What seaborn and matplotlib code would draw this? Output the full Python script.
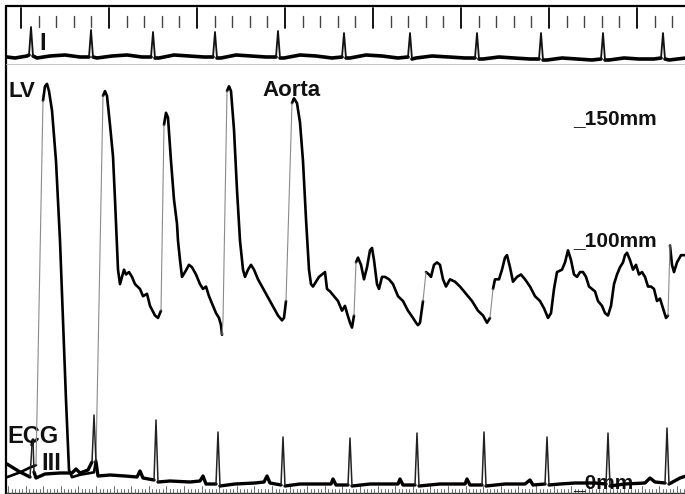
import numpy as np
import pandas as pd
import matplotlib
matplotlib.use("Agg")
import matplotlib.pyplot as plt
import seaborn as sns

# LV -> aortic pull-back pressure trace (time in chart units, pressure in mmHg)
pressure_t = [7, 20, 30, 36, 43, 45, 47, 49, 52, 56,
              60, 63, 66, 69, 72, 80, 94, 96, 103, 105,
              107, 110, 113, 115, 118, 120, 122, 124, 126, 129,
              132, 135, 140, 143, 147, 150, 155, 158, 160, 161,
              164, 166, 168, 171, 174, 177, 178, 180, 182, 185,
              189, 192, 196, 200, 203, 206, 209, 213, 216, 219,
              221, 222, 223, 227, 229, 231, 234, 237, 240, 243,
              245, 248, 251, 254, 258, 262, 266, 270, 274, 278,
              282, 284, 286, 292, 294, 297, 300, 303, 306, 309,
              311, 313, 316, 319, 322, 325, 327, 330, 334, 338,
              342, 345, 347, 350, 352, 354, 356, 358, 361, 364,
              367, 370, 372, 374, 377, 379, 382, 385, 389, 393,
              398, 403, 408, 413, 416, 418, 420, 423, 426, 429,
              431, 434, 437, 440, 443, 446, 450, 455, 460, 466,
              472, 478, 483, 487, 490, 493, 495, 499, 502, 505,
              507, 510, 513, 517, 521, 525, 530, 535, 540, 544,
              548, 551, 554, 557, 562, 565, 568, 571, 574, 577,
              580, 583, 586, 589, 592, 595, 598, 602, 605, 608,
              611, 614, 617, 620, 623, 625, 627, 630, 633, 636,
              639, 642, 645, 648, 651, 654, 657, 660, 663, 666,
              668, 670, 672, 674, 677, 681, 686]
pressure_mmhg = [2, 4, 6, 7, 158, 164, 165, 162, 154, 133,
                 100, 67, 34, 5, 2, 3, 4, 9, 160, 162,
                 160, 148, 135, 117, 88, 82, 85, 88, 86, 87,
                 85, 82, 80, 77, 78, 73, 69, 68, 70, 71,
                 148, 153, 151, 133, 117, 107, 100, 92, 85, 87,
                 90, 89, 86, 82, 80, 81, 77, 73, 70, 68,
                 65, 61, 67, 162, 164, 162, 146, 121, 100, 88,
                 85, 88, 90, 88, 84, 81, 78, 75, 72, 69,
                 67, 68, 75, 157, 159, 157, 149, 133, 109, 88,
                 82, 81, 83, 85, 86, 87, 80, 79, 77, 75,
                 71, 73, 70, 66, 64, 69, 91, 93, 90, 84,
                 89, 96, 97, 92, 82, 80, 85, 85, 84, 82,
                 77, 75, 71, 68, 66, 65, 66, 75, 87, 86,
                 85, 90, 91, 90, 84, 81, 84, 83, 81, 78,
                 75, 71, 69, 66, 68, 80, 84, 84, 88, 93,
                 94, 89, 83, 85, 86, 84, 81, 77, 75, 72,
                 68, 70, 80, 87, 88, 91, 96, 92, 86, 85,
                 87, 87, 85, 81, 80, 79, 75, 73, 70, 69,
                 73, 82, 86, 89, 91, 94, 95, 92, 88, 90,
                 86, 87, 85, 81, 81, 80, 75, 76, 72, 68,
                 69, 98, 90, 87, 91, 94, 94]

# ECG lead I (top strip), deflection in mV
ecg1_t = [7, 15, 27, 29, 31, 33, 37, 50, 65, 80,
          89, 91, 93, 97, 112, 127, 142, 151, 153, 155,
          159, 174, 189, 204, 213, 215, 217, 221, 236, 251,
          266, 276, 278, 280, 284, 300, 316, 332, 342, 344,
          346, 350, 366, 382, 398, 408, 410, 412, 416, 432,
          449, 465, 475, 477, 479, 483, 499, 514, 530, 539,
          541, 543, 547, 562, 577, 592, 601, 603, 605, 609,
          624, 639, 654, 661, 663, 665, 669, 686]
ecg1_mv = [0.0, -0.05, 0.05, 0.1, 1.5, 0.05, -0.05, 0.05, 0.1, 0.0,
           0.0, 1.35, 0.0, -0.05, 0.05, 0.1, 0.0, 0.0, 1.25, -0.05,
           -0.05, 0.1, 0.05, 0.0, 0.0, 1.25, -0.05, -0.05, 0.1, 0.05,
           0.0, 0.0, 1.3, -0.05, -0.05, 0.1, 0.05, -0.05, 0.0, 1.2,
           -0.05, -0.05, 0.1, 0.05, -0.05, 0.0, 1.2, -0.1, -0.05, 0.05,
           0.0, -0.05, -0.05, 1.2, -0.1, -0.1, 0.0, -0.05, -0.1, -0.1,
           1.2, -0.15, -0.15, -0.05, -0.1, -0.15, -0.1, 1.2, -0.15, -0.15,
           -0.05, -0.1, -0.1, -0.05, 1.2, -0.1, -0.15, -0.05]

# ECG lead III (bottom strip), deflection in mV
ecg3_t = [7, 20, 30, 32, 33, 34, 36, 45, 60, 72,
          76, 80, 88, 92, 94, 96, 98, 110, 125, 137,
          140, 143, 154, 156, 158, 170, 190, 200, 203, 206,
          216, 218, 220, 235, 255, 264, 267, 270, 281, 283,
          285, 300, 320, 331, 333, 336, 348, 350, 352, 370,
          398, 400, 403, 415, 417, 419, 440, 465, 467, 470,
          482, 484, 486, 505, 525, 530, 533, 545, 547, 549,
          560, 575, 595, 606, 608, 610, 625, 645, 650, 655,
          665, 667, 669, 680, 686]
ecg3_mv = [0.64, 0.32, 0.12, 1.4, 1.6, 0.32, 0.08, 0.24, 0.28, 0.28,
           0.44, 0.28, 0.4, 0.72, 2.6, 0.72, 0.16, 0.2, 0.16, 0.12,
           0.36, 0.08, 0.0, 2.4, -0.08, -0.04, -0.08, -0.04, 0.16, -0.16,
           -0.16, 1.92, -0.24, -0.16, -0.12, -0.08, 0.16, -0.12, -0.2, 1.72,
           -0.24, -0.16, -0.16, -0.16, 0.04, -0.2, -0.2, 1.68, -0.24, -0.16,
           -0.16, 0.04, -0.2, -0.2, 1.88, -0.24, -0.16, -0.16, 0.04, -0.2,
           -0.2, 1.92, -0.24, -0.16, -0.16, 0.0, -0.2, -0.16, 1.72, -0.2,
           -0.16, -0.12, -0.12, -0.16, 1.88, -0.24, -0.16, -0.12, 0.08, -0.08,
           -0.12, 2.08, -0.16, 0.08, 0.16]

scale_labels = ["_150mm", "_100mm", "_0mm"]
trace_labels = ["LV", "Aorta", "ECG", "III", "I"]

assert len(pressure_t) == len(pressure_mmhg)
assert len(ecg1_t) == len(ecg1_mv)
assert len(ecg3_t) == len(ecg3_mv)

# ---------------- styling ----------------
sns.set_theme(style="white")
plt.rcParams["font.family"] = ["Liberation Sans", "DejaVu Sans"]

W, H = 685, 494
fig = plt.figure(figsize=(6.85, 4.94), dpi=100)
fig.patch.set_facecolor("white")


def full_axes(ylim):
    ax = fig.add_axes([0, 0, 1, 1])
    ax.set_xlim(0, W)
    ax.set_ylim(*ylim)
    ax.axis("off")
    ax.patch.set_alpha(0)
    return ax


def split_trace(t, v, thr, rising_only):
    """Split a trace into fast (pen moving quickly -> faint) and slow parts."""
    rows = []
    seg, kind, cur = 0, None, []
    for i in range(len(t) - 1):
        slope = (v[i + 1] - v[i]) / (t[i + 1] - t[i])
        fast = slope > thr if rising_only else abs(slope) > thr
        k = "fast" if fast else "slow"
        if k != kind:
            if cur:
                rows += [(a, b, seg, kind) for a, b in cur]
            seg += 1
            kind = k
            cur = [(t[i], v[i])]
        cur.append((t[i + 1], v[i + 1]))
    rows += [(a, b, seg, kind) for a, b in cur]
    return pd.DataFrame(rows, columns=["t", "v", "seg", "kind"])


def draw(ax, df, slow_kw, fast_kw):
    for kind, kw in (("slow", slow_kw), ("fast", fast_kw)):
        d = df[df["kind"] == kind]
        if len(d):
            sns.lineplot(data=d, x="t", y="v", units="seg", estimator=None,
                         sort=False, legend=False, ax=ax,
                         solid_capstyle="round", solid_joinstyle="round", **kw)


# background axes in figure pixel units: frame, paper marks, labels
ax_bg = full_axes((H, 0))
ax_bg.plot([6.5, 6.5], [6, H], color="black", lw=1.6)
ax_bg.plot([6, W], [6.5, 6.5], color="black", lw=1.6)
ax_bg.plot([6, W], [492.5, 492.5], color="#333333", lw=1.0)
ax_bg.plot([6, W], [64.5, 64.5], color="#bbbbbb", lw=0.6)

# timing marks at the top
marks = np.arange(21, W, 17.6)
for i, x in enumerate(marks):
    if i % 5 == 0:
        ax_bg.plot([x, x], [8, 28], color="black", lw=1.3)
    else:
        ax_bg.plot([x, x], [16, 27], color="#444444", lw=1.0)
# fine ruler at the bottom
for i, x in enumerate(np.arange(8, W, 3.52)):
    top = 486 if i % 5 == 0 else 489
    ax_bg.plot([x, x], [top, 493], color="#555555", lw=0.6)

# pressure axes: 0 mmHg at pixel 482, 100 mmHg at 240.7
ax_p = full_axes((-4.97, 199.75))
draw(ax_p, split_trace(pressure_t, pressure_mmhg, 3.5, True),
     dict(color="black", linewidth=1.9),
     dict(color="#8a8a8a", linewidth=0.8))

# ECG lead I axes (baseline at pixel 57)
ax_e1 = full_axes((-21.85, 2.85))
draw(ax_e1, split_trace(ecg1_t, ecg1_mv, 0.3, False),
     dict(color="black", linewidth=2.6),
     dict(color="#111111", linewidth=1.3))

# ECG lead III axes (baseline at pixel 480)
ax_e3 = full_axes((-0.56, 19.2))
draw(ax_e3, split_trace(ecg3_t, ecg3_mv, 0.5, False),
     dict(color="black", linewidth=2.4),
     dict(color="#222222", linewidth=1.1))

# labels
bold = dict(fontweight="bold", color="#111111", va="baseline", ha="left")
ax_bg.text(8, 97, trace_labels[0], fontsize=16, **bold)
ax_bg.text(262, 96, trace_labels[1], fontsize=16, **bold)
ax_bg.text(7, 443, trace_labels[2], fontsize=17, **bold)
ax_bg.text(41, 470, trace_labels[3], fontsize=17, **bold)
ax_bg.text(39, 50, trace_labels[4], fontsize=17, **bold)
ax_bg.text(573, 124, scale_labels[0], fontsize=15, **bold)
ax_bg.text(573, 246, scale_labels[1], fontsize=15, **bold)
ax_bg.text(573, 488, scale_labels[2], fontsize=15, **bold)

fig.savefig("out.png", dpi=100, facecolor="white")
